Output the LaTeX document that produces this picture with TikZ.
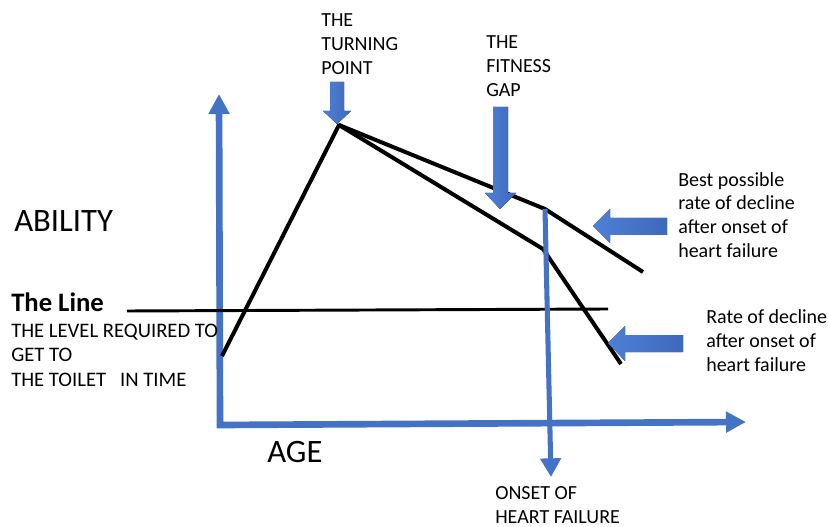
\documentclass[tikz,border=0pt]{standalone}
\usepackage{fontspec}
\setmainfont{Carlito}
\usepackage{tikz}
\usetikzlibrary{arrows.meta}
\definecolor{chartblue}{HTML}{4472C4}
\definecolor{blockdark}{HTML}{3D69BB}
\definecolor{blocklight}{HTML}{4F80D6}

\tikzset{
  axisline/.style={chartblue, line width=5pt, line join=miter},
  declineline/.style={black, line width=3pt, line join=round},
  blockarrow/.style={left color=blocklight, right color=blockdark, draw=none},
  smalltext/.style={inner sep=0pt, align=left, font=\fontsize{15}{18}\selectfont},
  bigtext/.style={inner sep=0pt, font=\fontsize{24.5}{28}\selectfont}
}

\begin{document}
\begin{tikzpicture}[x=0.75pt,y=-0.75pt]
        \useasboundingbox (0,0) rectangle (828,527);

        % Points of the graph
        \coordinate (origin) at (220,425);
        \coordinate (ytip) at (219,94);
        \coordinate (xtip) at (746,422);
        \coordinate (start) at (222,356);
        \coordinate (peak) at (339,125);
        \coordinate (kinkhi) at (545,209);
        \coordinate (endhi) at (643,272);
        \coordinate (kinklo) at (543,249);
        \coordinate (endlo) at (621,364);
        \coordinate (lineleft) at (127,311);
        \coordinate (lineright) at (608,309);
        \coordinate (onsetend) at (551,477);

        % Axes
        \draw[axisline, {Triangle[length=15pt,width=15pt]}-{Triangle[length=15pt,width=15pt]}]
            (ytip) -- (origin) -- (xtip);

        % The Line
        \draw[black, line width=2.2pt] (lineleft) -- (lineright);

        % Ability over age
        \draw[declineline] (start) -- (peak) -- (kinkhi) -- (endhi);
        \draw[declineline] (peak) -- (kinklo) -- (endlo);

        % Onset of heart failure
        \draw[chartblue, line width=3.8pt, -{Triangle[length=14pt,width=15pt]}] (kinkhi) -- (onsetend);

        % Block arrows
        \fill[blockarrow] (330,82) -- (344,82) -- (344,111) -- (351,111) -- (337,124)
            -- (323,111) -- (330,111) -- cycle;
        \fill[blockarrow] (493,107) -- (508,107) -- (508,193) -- (516,193) -- (500,209)
            -- (485,193) -- (493,193) -- cycle;
        \fill[blockarrow] (667,218) -- (667,235) -- (610,235) -- (610,243) -- (593,226)
            -- (610,209) -- (610,218) -- cycle;
        \fill[blockarrow] (683,335) -- (683,352) -- (625,352) -- (625,361) -- (608,343)
            -- (625,326) -- (625,335) -- cycle;

        % Labels (base = last line)
        \node[smalltext, anchor=base west] (turning) at (321,75) {THE\\TURNING\\POINT};
        \node[smalltext, anchor=base west] (fitness) at (486,97) {THE\\FITNESS\\GAP};
        \node[smalltext, anchor=base west] (best) at (678,258) {Best possible\\rate of decline\\after onset of\\heart failure};
        \node[smalltext, anchor=base west] (rate) at (706,371) {Rate of decline\\after onset of\\heart failure};
        \node[smalltext, anchor=base west] (onset) at (495,523) {ONSET OF\\HEART FAILURE};
        \node[bigtext, anchor=base west] (ability) at (14,232) {ABILITY};
        \node[bigtext, anchor=base west] (age) at (267,462) {AGE};
        \node[inner sep=0pt, anchor=base west, font=\fontsize{20}{24}\selectfont\bfseries] (theline) at (11,311) {The Line};
        \node[smalltext, anchor=base west, font=\fontsize{15.5}{18.3}\selectfont] (level) at (11,386) {THE LEVEL REQUIRED TO\\GET TO\\THE TOILET \ \ IN TIME};
    \end{tikzpicture}
\end{document}
